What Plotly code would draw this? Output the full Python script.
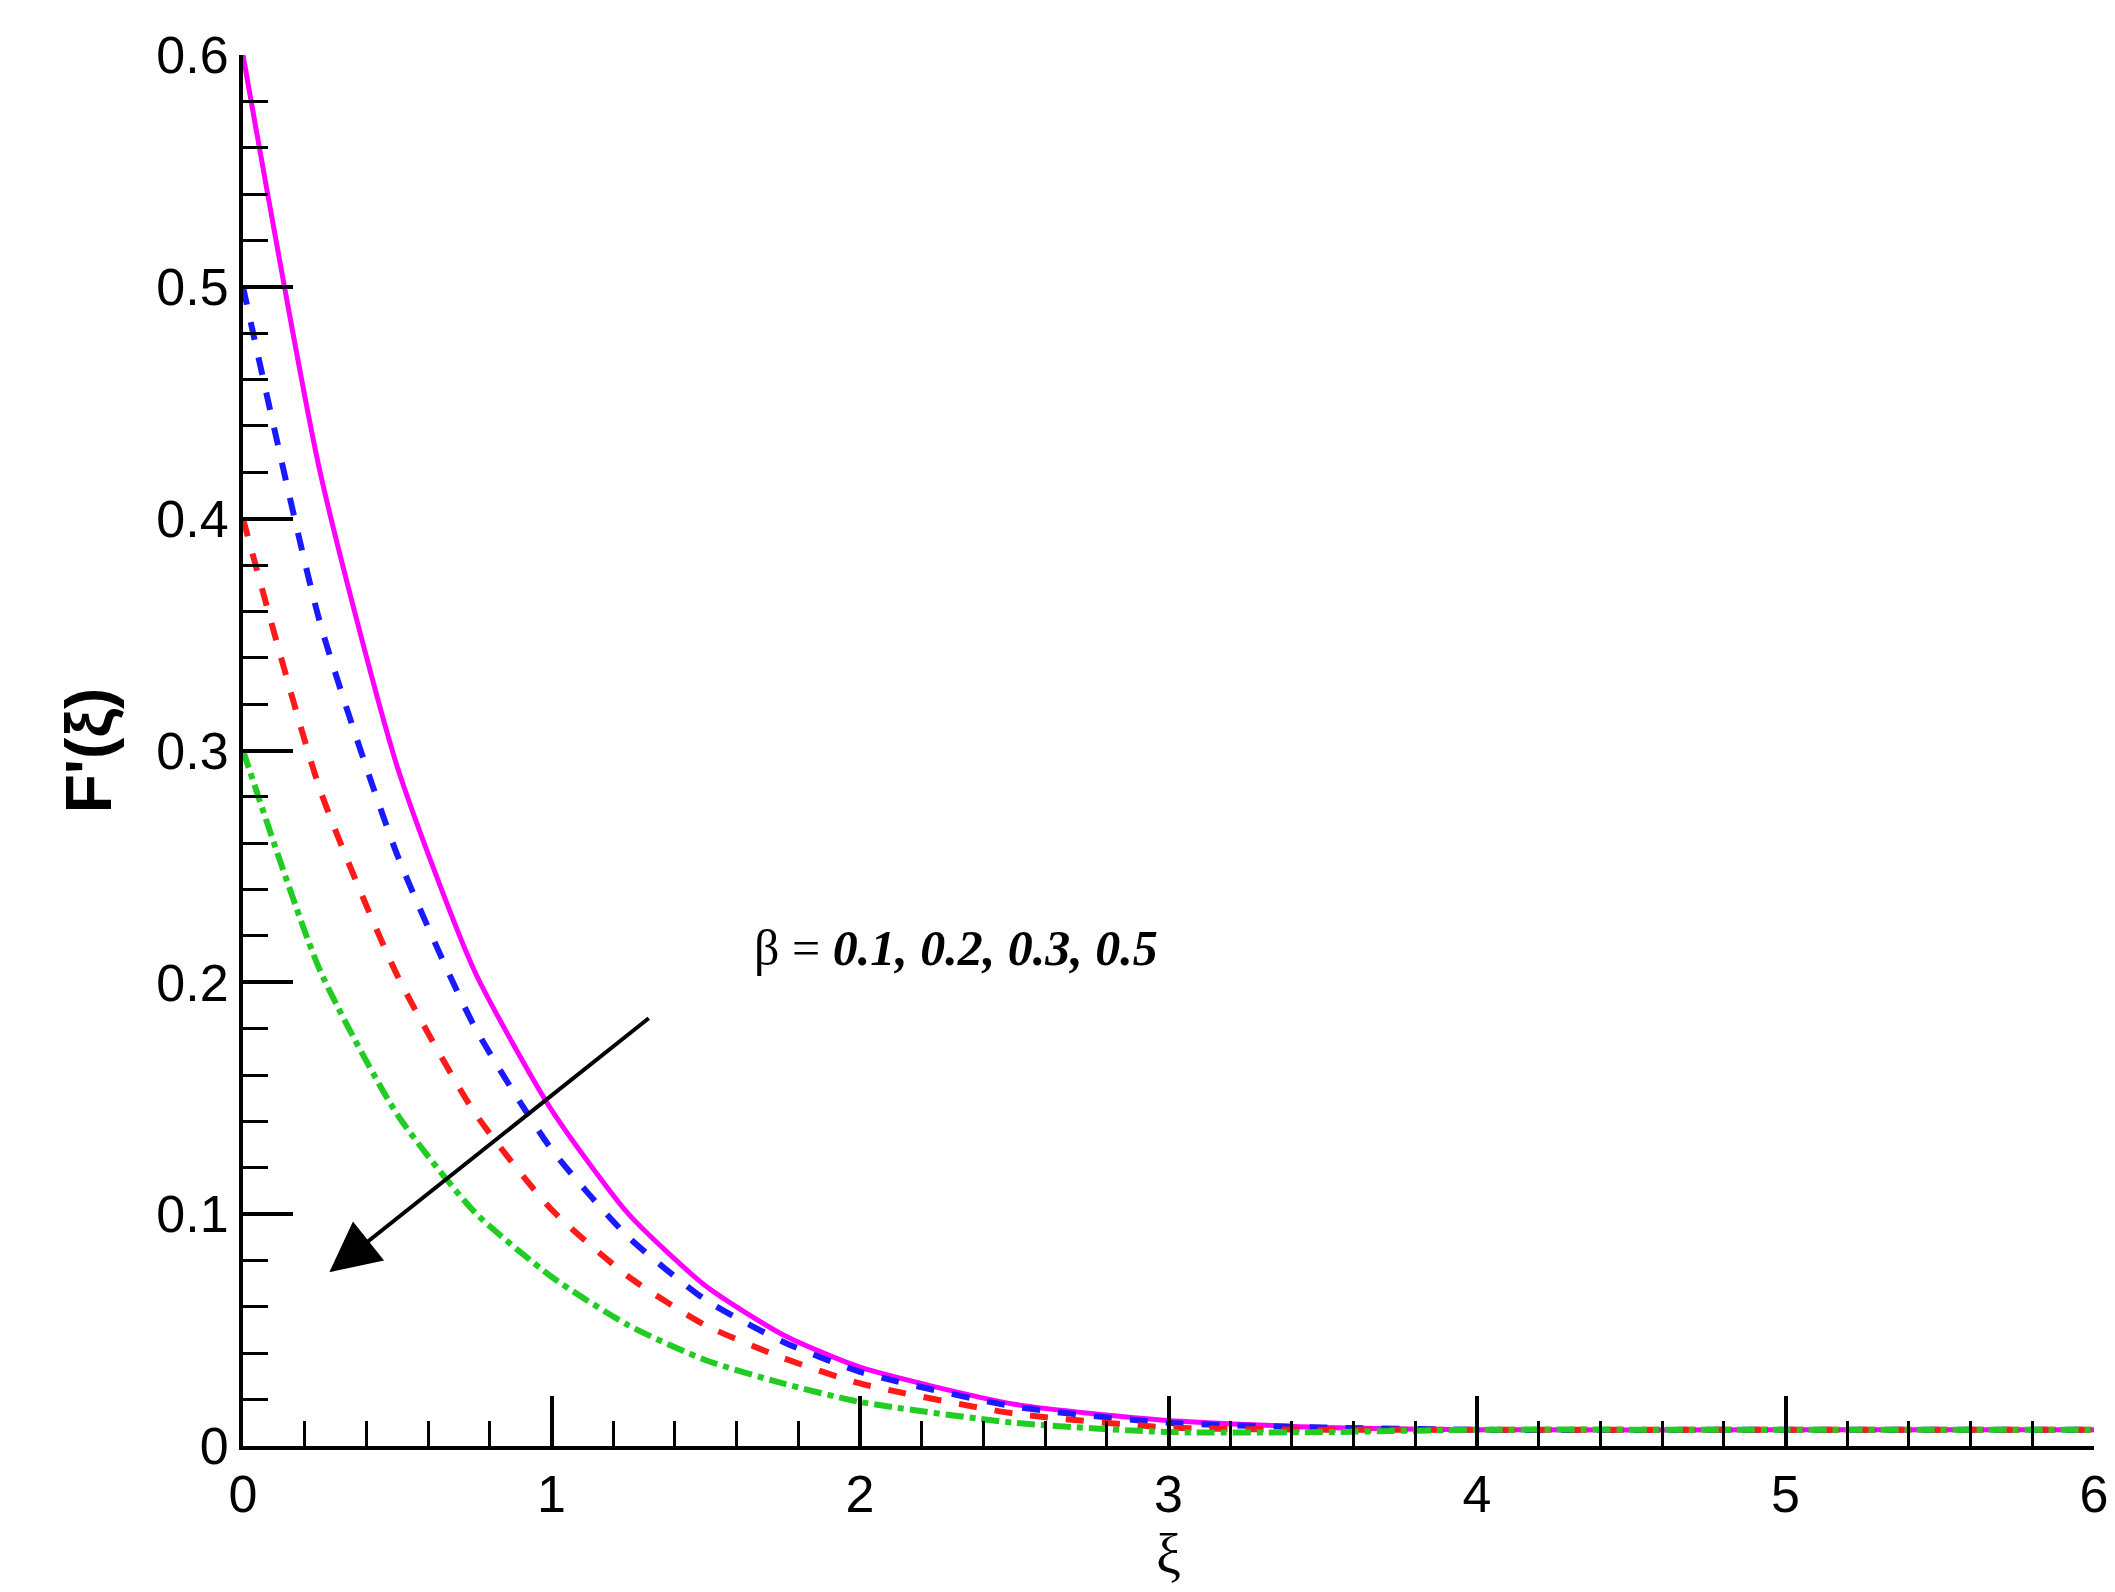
import plotly.graph_objects as go

xi = [0, 0.25, 0.5, 0.75, 1, 1.25, 1.5, 1.75, 2, 2.5, 3, 3.5, 4, 5, 6]
f_b01 = [0.6, 0.42, 0.293, 0.205, 0.145, 0.100, 0.069, 0.048, 0.034, 0.018, 0.011, 0.008, 0.007, 0.007, 0.007]
f_b02 = [0.5, 0.355, 0.255, 0.181, 0.128, 0.090, 0.063, 0.045, 0.032, 0.017, 0.010, 0.008, 0.007, 0.007, 0.007]
f_b03 = [0.4, 0.283, 0.203, 0.144, 0.102, 0.073, 0.052, 0.038, 0.027, 0.014, 0.008, 0.007, 0.007, 0.007, 0.007]
f_b05 = [0.3, 0.205, 0.143, 0.101, 0.073, 0.052, 0.037, 0.027, 0.019, 0.010, 0.006, 0.006, 0.007, 0.007, 0.007]

sp = dict(shape="spline", smoothing=0.6)
fig = go.Figure()
fig.add_trace(go.Scatter(x=xi, y=f_b01, mode="lines", line=dict(color="#ff00ff", width=5, **sp)))
fig.add_trace(go.Scatter(x=xi, y=f_b02, mode="lines", line=dict(color="#1a1aff", width=6, dash="dash", **sp)))
fig.add_trace(go.Scatter(x=xi, y=f_b03, mode="lines", line=dict(color="#ff1a1a", width=6, dash="dash", **sp)))
fig.add_trace(go.Scatter(x=xi, y=f_b05, mode="lines", line=dict(color="#22cc22", width=6, dash="dashdot", **sp)))

fig.add_annotation(x=0.28, y=0.075, ax=1.32, ay=0.185, xref="x", yref="y", axref="x", ayref="y",
                   showarrow=True, arrowhead=2, arrowsize=2.5, arrowwidth=4, arrowcolor="black", text="")
fig.add_annotation(x=1.65, y=0.215, xanchor="left", text="β = <b><i>0.1, 0.2, 0.3, 0.5</i></b>", showarrow=False,
                   font=dict(family="Liberation Serif", size=50, color="black"))

axis_common = dict(showline=True, linecolor="black", linewidth=4, ticks="inside", ticklen=50, tickwidth=4,
                   tickcolor="black", showgrid=False, zeroline=False, mirror=False,
                   tickfont=dict(family="Liberation Sans", size=52, color="black"))
fig.update_xaxes(range=[0, 6], dtick=1, minor=dict(dtick=0.2, ticks="inside", ticklen=25, tickwidth=3, tickcolor="black"),
                 title=dict(text="ξ", font=dict(family="Liberation Serif", size=56, color="black"), standoff=0), **axis_common)
fig.update_yaxes(range=[0, 0.6], dtick=0.1, tickformat=".1~f",
                 minor=dict(dtick=0.02, ticks="inside", ticklen=25, tickwidth=3, tickcolor="black"),
                 title=dict(text="<b>F'(ξ)</b>", font=dict(family="Liberation Sans", size=64, color="black"), standoff=25), **axis_common)
fig.update_layout(width=2115, height=1592, showlegend=False, plot_bgcolor="white", paper_bgcolor="white",
                  margin=dict(l=235, r=29, t=47, b=154))
fig.write_html("out.html")
